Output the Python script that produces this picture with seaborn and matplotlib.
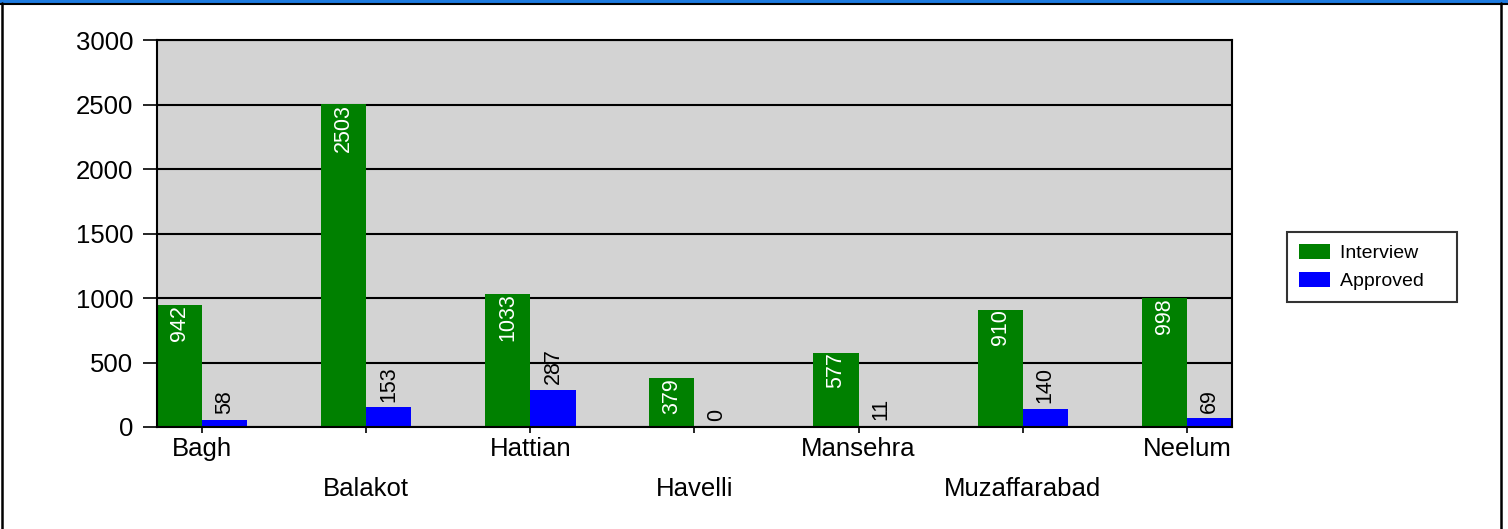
import matplotlib
matplotlib.use("Agg")
import matplotlib.pyplot as plt
import matplotlib.transforms as mtransforms
from matplotlib.patches import Rectangle
import pandas as pd
import seaborn as sns

# data
districts = ["Bagh", "Balakot", "Hattian", "Havelli", "Mansehra", "Muzaffarabad", "Neelum"]
interview = [942, 2503, 1033, 379, 577, 910, 998]
approved = [58, 153, 287, 0, 11, 140, 69]
series = ["Interview", "Approved"]
colors = ["#008000", "#0000FF"]

df = pd.DataFrame({
    "district": districts * 2,
    "count": interview + approved,
    "series": [series[0]] * len(districts) + [series[1]] * len(districts),
})

sns.set_style("white")
plt.rcParams["font.family"] = ["Liberation Sans", "DejaVu Sans"]
plt.rcParams["text.color"] = "black"
plt.rcParams["xtick.color"] = "black"
plt.rcParams["ytick.color"] = "black"

fig = plt.figure(figsize=(15.08, 5.29), dpi=100)
ax = fig.add_axes([157 / 1508, 102 / 529, 1075 / 1508, 387 / 529])

sns.barplot(data=df, x="district", y="count", hue="series", hue_order=series,
            palette=colors, width=0.55, saturation=1, linewidth=0, ax=ax)

ax.set_facecolor("#D3D3D3")
ax.set_ylim(0, 3000)
ax.set_xlim(-0.275, len(districts) - 1 + 0.275)
ax.set_yticks(range(0, 3001, 500))
ax.set_xlabel("")
ax.set_ylabel("")
ax.yaxis.grid(True, color="black", linewidth=1.5)
ax.set_axisbelow(True)
for s in ax.spines.values():
    s.set_color("black")
    s.set_linewidth(1.5)
ax.tick_params(axis="y", length=10, width=1.2, pad=7, labelsize=18.5, left=True,
               colors="black")
ax.tick_params(axis="x", length=4, width=1.2, pad=3, labelsize=18.5, bottom=True,
               colors="black")

# stagger the district labels onto two rows
shift = mtransforms.ScaledTranslation(0, -0.40, fig.dpi_scale_trans)
for i, lab in enumerate(ax.get_xticklabels()):
    if i % 2 == 1:
        lab.set_transform(lab.get_transform() + shift)

# value labels
for rect, v in zip(ax.containers[0], interview):
    ax.annotate(str(v), (rect.get_x() + rect.get_width() / 2, rect.get_height()),
                xytext=(0, 0), textcoords="offset points", rotation=90,
                ha="center", va="top", color="white", fontsize=15.5)
for rect, v in zip(ax.containers[1], approved):
    ax.annotate(str(v), (rect.get_x() + rect.get_width() / 2, rect.get_height()),
                xytext=(0, 4), textcoords="offset points", rotation=90,
                ha="center", va="bottom", color="black", fontsize=15.5)

handles, labels = ax.get_legend_handles_labels()
leg = ax.legend(handles, [l + "    " for l in labels],
                loc="center left", bbox_to_anchor=(1287 / 1508, 262 / 529),
                bbox_transform=fig.transFigure, borderaxespad=0, fontsize=14,
                frameon=True, fancybox=False, handlelength=1.6, handleheight=0.8,
                handletextpad=0.5, labelspacing=0.5, borderpad=0.6)
leg.get_frame().set_edgecolor("black")
leg.get_frame().set_linewidth(1.5)

# outer frame of the picture
fig.patches.append(Rectangle((0, 1 - 3 / 529), 1, 3 / 529, transform=fig.transFigure,
                             facecolor="#1E7BE0", edgecolor="none"))
fig.lines.append(plt.Line2D([0, 1], [1 - 4 / 529, 1 - 4 / 529], transform=fig.transFigure,
                            color="black", linewidth=1.5))
fig.lines.append(plt.Line2D([2 / 1508, 2 / 1508], [0, 1 - 3 / 529], transform=fig.transFigure,
                            color="black", linewidth=1.8))
fig.lines.append(plt.Line2D([1501 / 1508, 1501 / 1508], [0, 1 - 3 / 529], transform=fig.transFigure,
                            color="black", linewidth=1.8))

fig.savefig("out.png", dpi=100)
